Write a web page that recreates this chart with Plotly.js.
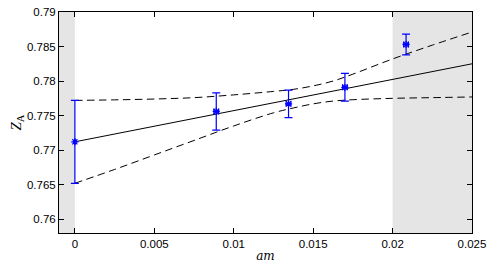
<!DOCTYPE html>
<html>
<head>
<meta charset="utf-8">
<script src="https://cdn.plot.ly/plotly-3.0.1.min.js"></script>
<style>html,body{margin:0;padding:0;background:#fff;}#chart{width:493px;height:266px;}</style>
</head>
<body>
<div id="chart"></div>
<script>
// Data points (lattice spacing am vs Z_A)
const amValues = [0, 0.0089, 0.01345, 0.0170, 0.02085];
const zaValues = [0.7712, 0.7756, 0.7767, 0.7791, 0.7853];
const zaErrors = [0.0060, 0.0027, 0.0020, 0.0020, 0.0015];
const amErrors = [0, 0.00015, 0.00015, 0.00015, 0.00015];

// Linear fit line
const fitAm = [0, 0.025];
const fitZa = [0.7712, 0.7825];

// Error band of the fit (dashed)
const bandAm = [0, 0.0025, 0.005, 0.0075, 0.01, 0.0125, 0.01375, 0.015, 0.01625, 0.0175, 0.02, 0.0225, 0.025];
const bandUpper = [0.7772, 0.77728, 0.7774, 0.7776, 0.7780, 0.7785, 0.7788, 0.7793, 0.7800, 0.7810, 0.7832, 0.7852, 0.7871];
const bandLower = [0.7652, 0.7672, 0.7693, 0.7714, 0.7735, 0.7754, 0.7761, 0.7767, 0.7771, 0.7773, 0.7775, 0.7776, 0.7777];

// Shaded (excluded) regions
const shadeStart = [-0.001, 0.02];
const shadeEnd = [0, 0.025];

// Axis ticks
const xTicks = [0, 0.005, 0.01, 0.015, 0.02, 0.025];
const xTickText = ['0', '0.005', '0.01', '0.015', '0.02', '0.025'];
const yTicks = [0.76, 0.765, 0.77, 0.775, 0.78, 0.785, 0.79];
const yTickText = ['0.76', '0.765', '0.77', '0.775', '0.78', '0.785', '0.79'];

const dashStyle = '7.5px,4.5px';
const traces = [
  {x: bandAm, y: bandUpper, mode: 'lines', line: {color: '#000', width: 1, dash: dashStyle, shape: 'spline', smoothing: 1}, hoverinfo: 'skip'},
  {x: bandAm, y: bandLower, mode: 'lines', line: {color: '#000', width: 1, dash: dashStyle, shape: 'spline', smoothing: 1}, hoverinfo: 'skip'},
  {x: fitAm, y: fitZa, mode: 'lines', line: {color: '#000', width: 1}},
  {x: amValues, y: zaValues, mode: 'markers',
   marker: {symbol: 'asterisk-open', size: 6, color: '#0000ff', line: {color: '#0000ff', width: 1.2}},
   error_y: {type: 'data', array: zaErrors, visible: true, color: '#0000ff', thickness: 1.2, width: 4},
   error_x: {type: 'data', array: amErrors, visible: true, color: '#0000ff', thickness: 1.2, width: 3}}
];

const shapes = shadeStart.map((s, i) => ({
  type: 'rect', xref: 'x', yref: 'paper', x0: s, x1: shadeEnd[i], y0: 0, y1: 1,
  fillcolor: '#e5e5e5', line: {width: 0}, layer: 'below'
}));

const axisCommon = {
  showline: true, linecolor: '#000', linewidth: 1, mirror: 'ticks',
  ticks: 'inside', ticklen: 5, tickwidth: 1, tickcolor: '#000',
  showgrid: false, zeroline: false,
  tickfont: {family: 'Liberation Sans, Arial, sans-serif', size: 11.5, color: '#000'}
};

const layout = {
  width: 493, height: 266,
  margin: {l: 59, r: 21, t: 12, b: 33},
  paper_bgcolor: '#fff', plot_bgcolor: '#fff',
  showlegend: false,
  shapes: shapes,
  xaxis: Object.assign({}, axisCommon, {
    range: [-0.001, 0.025], tickvals: xTicks, ticktext: xTickText,
    title: {text: '<i>am</i>', font: {family: 'DejaVu Serif, Liberation Serif, serif', size: 12, color: '#000'}, standoff: 2}
  }),
  yaxis: Object.assign({}, axisCommon, {
    range: [0.758, 0.79], tickvals: yTicks, ticktext: yTickText,
    title: {text: '<i>Z</i><sub>A</sub>', font: {family: 'Liberation Serif, DejaVu Serif, serif', size: 15, color: '#000'}, standoff: 1}
  })
};

Plotly.newPlot('chart', traces, layout, {staticPlot: true, displayModeBar: false});
</script>
</body>
</html>
